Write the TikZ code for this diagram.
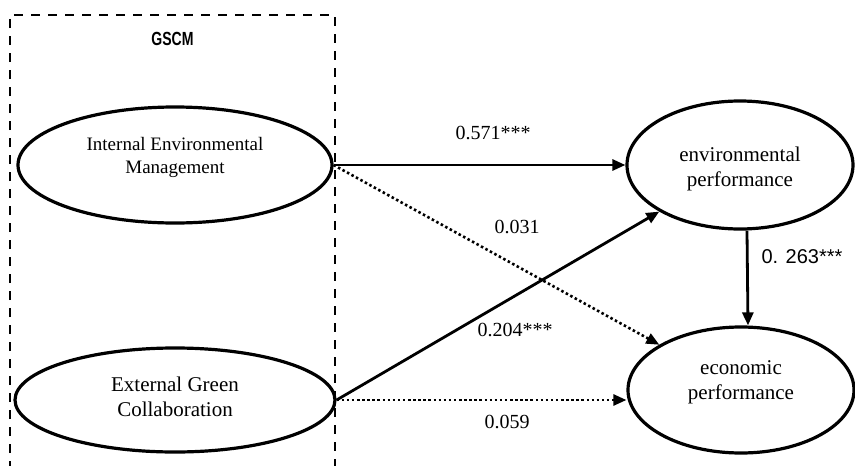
\documentclass[tikz,border=0pt]{standalone}
\usepackage{fontspec}
\usepackage{graphicx}
\setmainfont{Liberation Serif}
\setsansfont{Liberation Sans}
\usetikzlibrary{arrows.meta,shapes.geometric}
\begin{document}
\begin{tikzpicture}[x=1pt,y=-1pt,
  latent/.style={draw, ellipse, line width=3.2pt, inner sep=0pt},
  caption/.style={align=center, inner sep=0pt},
  bigtext/.style={font=\fontsize{21}{25}\selectfont},
  smalltext/.style={font=\fontsize{19}{23}\selectfont},
  effect/.style={line width=2.8pt, -{Triangle[length=13pt,width=11pt]}},
  weakeffect/.style={effect, line width=2.6pt, dash pattern=on 2.5pt off 2.6pt},
  coef/.style={font=\fontsize{20}{24}\selectfont, inner sep=0pt},
  groupframe/.style={line width=2.5pt, dash pattern=on 9pt off 8pt}]
\useasboundingbox (0,0) rectangle (855,466);

% GSCM group frame (open at the bottom)
\coordinate (frameBL) at (10,470);
\coordinate (frameTL) at (10,15);
\coordinate (frameTR) at (335,15);
\coordinate (frameBR) at (335,470);
\draw[groupframe] (frameBL) -- (frameTL) -- (frameTR) -- (frameBR);
\node[inner sep=0pt, font=\sffamily\bfseries\fontsize{19}{21}\selectfont] (gscm) at (172.5,38.5)
  {\scalebox{0.74}[1]{GSCM}};

% latent constructs
\node[latent, minimum width=314pt, minimum height=116pt] (iem) at (175,165) {};
\node[latent, minimum width=320pt, minimum height=104pt] (egc) at (175,400) {};
\node[latent, minimum width=226pt, minimum height=128pt] (env) at (740,165) {};
\node[latent, minimum width=226pt, minimum height=126pt] (eco) at (741,390) {};

\node[caption, smalltext] (iemtext) at ([yshift=8pt]iem.center)
  {Internal Environmental\\Management};
\node[caption, bigtext] (egctext) at ([yshift=3pt]egc.center)
  {External Green\\Collaboration};
\node[caption, bigtext] (envtext) at ([yshift=-4pt]env.center)
  {environmental\\performance};
\node[caption, bigtext] (ecotext) at ([yshift=8pt]eco.center)
  {economic\\performance};

% structural paths
\draw[effect] (iem.east) -- (iem.east -| env.west);
\draw[weakeffect] (iem.east) -- (eco.151);
\draw[effect] (egc.east) -- (env.210);
\draw[weakeffect] (egc.east) -- (egc.east -| eco.west);
\draw[effect] ([xshift=7pt]env.south) -- ([xshift=7pt]eco.north);

% path coefficients
\node[coef] (c1) at (493,133) {0.571***};
\node[coef] (c2) at (517,227) {0.031};
\node[coef] (c3) at (515,330) {0.204***};
\node[coef] (c4) at (507,422) {0.059};
\node[coef, font=\sffamily\fontsize{20}{24}\selectfont] (c5) at (802,257) {0. 263***};
\end{tikzpicture}
\end{document}
